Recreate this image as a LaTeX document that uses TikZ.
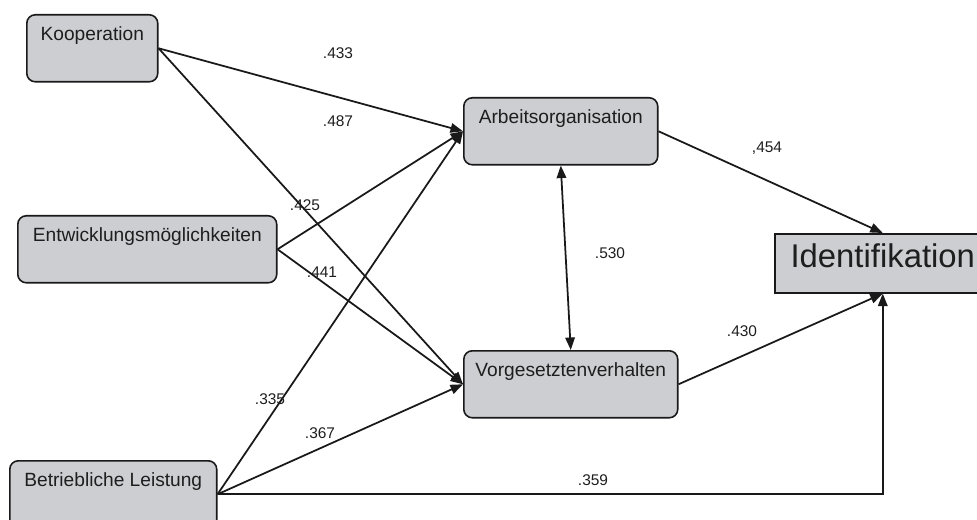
\documentclass[tikz,border=0pt]{standalone}
\usepackage{fontspec}
\setmainfont{Liberation Sans}
\usetikzlibrary{arrows.meta}
\definecolor{boxgray}{RGB}{205,206,210}
\definecolor{linegray}{RGB}{25,25,25}
\definecolor{textgray}{RGB}{30,30,30}
\begin{document}
\begin{tikzpicture}[x=0.02cm, y=-0.02cm,
  var/.style={draw=linegray, fill=boxgray, line width=0.9pt, rounded corners=0.17cm,
    anchor=north west, inner sep=0pt, text height=0.52cm, text depth=0.82cm,
    font=\fontsize{10.9}{13}\selectfont, text=textgray},
  target/.style={draw=linegray, fill=boxgray, line width=0.9pt,
    anchor=north west, inner sep=0pt, text height=0.68cm, text depth=0.50cm,
    font=\fontsize{18.7}{22}\selectfont, text=textgray},
  path/.style={draw=linegray, line width=1pt, -{Triangle[length=2.5mm,width=1.9mm]}},
  coef/.style={font=\fontsize{8.8}{10}\selectfont, text=textgray, inner sep=0pt}]

\useasboundingbox (0,0) rectangle (977,520);
\clip (0,0) rectangle (977,520);

% Exogene Variablen
\node[var, minimum width=2.62cm] (Koop) at (26,14) {Kooperation};
\node[var, minimum width=5.18cm] (Entw) at (17,215) {Entwicklungsmöglichkeiten};
\node[var, minimum width=4.14cm] (Betr) at (9,460) {Betriebliche Leistung};

% Mediatoren
\node[var, minimum width=3.88cm] (Arb) at (463,97) {Arbeitsorganisation};
\node[var, minimum width=4.28cm] (Vorg) at (463,350) {Vorgesetztenverhalten};

% Zielvariable
\node[target, minimum width=4.32cm] (Ident) at (774,233) {Identifikation};

% Pfade
\draw[path] (Koop.east) -- (Arb.west);
\draw[path] (Koop.east) -- (Vorg.west);
\draw[path] (Entw.east) -- (Arb.west);
\draw[path] (Entw.east) -- (Vorg.west);
\draw[path] (Betr.east) -- (Arb.west);
\draw[path] (Betr.east) -- (Vorg.west);
\draw[path] (Betr.east) -| (Ident.south);
\draw[path] (Arb.east) -- (Ident.north);
\draw[path] (Vorg.east) -- (Ident.south);
\draw[path, {Triangle[length=2.5mm,width=1.9mm]}-{Triangle[length=2.5mm,width=1.9mm]}] (Arb.south) -- (Vorg.north);

% Koeffizienten
\node[coef] (c433) at (338,53) {.433};
\node[coef] (c487) at (338,121) {.487};
\node[coef] (c425) at (305,205) {.425};
\node[coef] (c441) at (322,272) {.441};
\node[coef] (c335) at (270,399) {.335};
\node[coef] (c367) at (320,433) {.367};
\node[coef] (c359) at (593,480) {.359};
\node[coef] (c530) at (610,253) {.530};
\node[coef] (c454) at (767,148) {,454};
\node[coef] (c430) at (742,331) {.430};

\end{tikzpicture}
\end{document}
